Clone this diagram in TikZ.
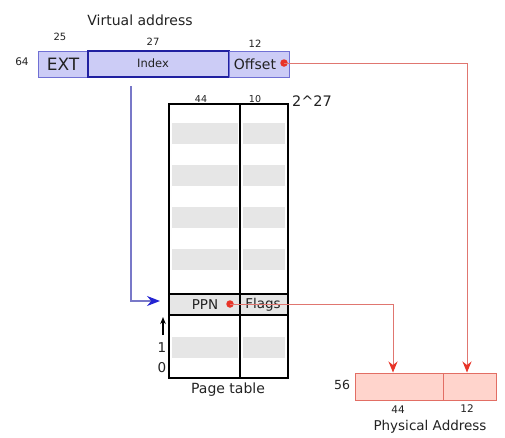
\documentclass[tikz,border=0pt]{standalone}
\usepackage{fontspec}
\setmainfont{DejaVu Sans}
\usetikzlibrary{arrows.meta}
\definecolor{vfill}{RGB}{204,204,246}
\definecolor{vborder}{RGB}{112,112,212}
\definecolor{vdark}{RGB}{32,32,160}
\definecolor{bline}{RGB}{120,120,200}
\definecolor{bhead}{RGB}{36,36,210}
\definecolor{rline}{RGB}{224,118,112}
\definecolor{rhead}{RGB}{232,52,40}
\definecolor{pfill}{RGB}{255,212,204}
\definecolor{pborder}{RGB}{226,110,100}
\definecolor{stripe}{RGB}{230,230,230}
\definecolor{txt}{RGB}{34,34,34}
\tikzset{
  vcell/.style={draw=vborder, fill=vfill, line width=1pt, inner sep=0pt, minimum height=26pt},
  icell/.style={draw=vdark, fill=vfill, line width=1.6pt, inner sep=0pt, minimum height=26pt},
  pcell/.style={draw=pborder, fill=pfill, line width=1pt, inner sep=0pt, minimum height=27pt},
  lbl/.style={text=txt, inner sep=0pt},
  redln/.style={draw=rline, line width=1pt, -{Stealth[length=11pt,width=9pt,color=rhead]}},
  blueln/.style={draw=bline, line width=1.3pt, -{Stealth[length=13pt,width=10pt,color=bhead]}},
  reddot/.style={circle, fill=rhead, inner sep=0pt, minimum size=7.5pt}
}
\begin{document}
\begin{tikzpicture}[x=1pt,y=-1pt]
\useasboundingbox (0,0) rectangle (505,437);
% virtual address
\node[lbl, font=\fontsize{14}{16}\selectfont] (vatitle) at (140,20) {Virtual address};
\node[vcell, minimum width=50pt] (ext) at (63,64) {};
\node[icell, minimum width=141pt] (idx) at (158.5,64) {};
\node[vcell, minimum width=60pt] (off) at (259,64) {};
\node[lbl, font=\fontsize{17}{19}\selectfont] (exttxt) at (63,64) {EXT};
\node[lbl, font=\fontsize{11.5}{13}\selectfont] (idxtxt) at (153,63) {Index};
\node[lbl, font=\fontsize{14}{16}\selectfont] (offtxt) at (255,64) {Offset};
\node[lbl, font=\fontsize{10.5}{12}\selectfont] (n64) at (22,62) {64};
\node[lbl, font=\fontsize{10}{12}\selectfont] (n25) at (60,37) {25};
\node[lbl, font=\fontsize{10}{12}\selectfont] (n27) at (153,42) {27};
\node[lbl, font=\fontsize{10}{12}\selectfont] (n12a) at (255,44) {12};
\node[reddot] (odot) at (284,63) {};
% page table
\foreach \y in {123,165,207,249,337}{
  \fill[stripe] (172,\y) rectangle (238,\y+21);
  \fill[stripe] (243,\y) rectangle (285,\y+21);
}
\draw[black, line width=1.6pt, fill=stripe] (169,294) rectangle (288,315);
\draw[black, line width=1.8pt] (169,104) rectangle (288,378);
\draw[black, line width=1.8pt] (240,104) -- (240,378);
\node[lbl, font=\fontsize{9.5}{11}\selectfont] (n44a) at (201,99) {44};
\node[lbl, font=\fontsize{9.5}{11}\selectfont] (n10) at (255,99) {10};
\node[lbl, font=\fontsize{14.5}{16}\selectfont] (n227) at (312,101) {2\^{}27};
\node[lbl, font=\fontsize{13.5}{15}\selectfont] (ppn) at (205,305) {PPN};
\node[lbl, font=\fontsize{13.5}{15}\selectfont] (flags) at (263,305) {Flags};
\node[reddot] (pdot) at (230,304) {};
\node[lbl, font=\fontsize{13.5}{15}\selectfont] (one) at (162,348) {1};
\node[lbl, font=\fontsize{13.5}{15}\selectfont] (zero) at (162,368) {0};
\coordinate (upst) at (163,335);
\coordinate (upend) at (163,317);
\draw[black, line width=1.1pt, -{Stealth[length=7pt,width=5.5pt]}] (upst) -- (upend);
\node[lbl, font=\fontsize{14}{16}\selectfont] (pttitle) at (228,390) {Page table};
% physical address
\node[pcell, minimum width=88pt] (pa1) at (399,386.5) {};
\node[pcell, minimum width=53pt] (pa2) at (469.5,386.5) {};
\node[lbl, font=\fontsize{12.5}{14}\selectfont] (n56) at (342,385) {56};
\node[lbl, font=\fontsize{10.5}{12}\selectfont] (n44b) at (398,410) {44};
\node[lbl, font=\fontsize{10.5}{12}\selectfont] (n12b) at (467,409) {12};
\node[lbl, font=\fontsize{13.5}{15}\selectfont] (patitle) at (430,427) {Physical Address};
% connectors
\coordinate (bstart) at (131,86);
\coordinate (btip) at (160,301);
\draw[blueln] (bstart) |- (btip);
\draw[redln] (odot.center) -- (467,63) -- (pa2.north -| 467,0);
\draw[redln] (pdot.center) -- (393,304) -- (pa1.north -| 393,0);
\end{tikzpicture}
\end{document}
